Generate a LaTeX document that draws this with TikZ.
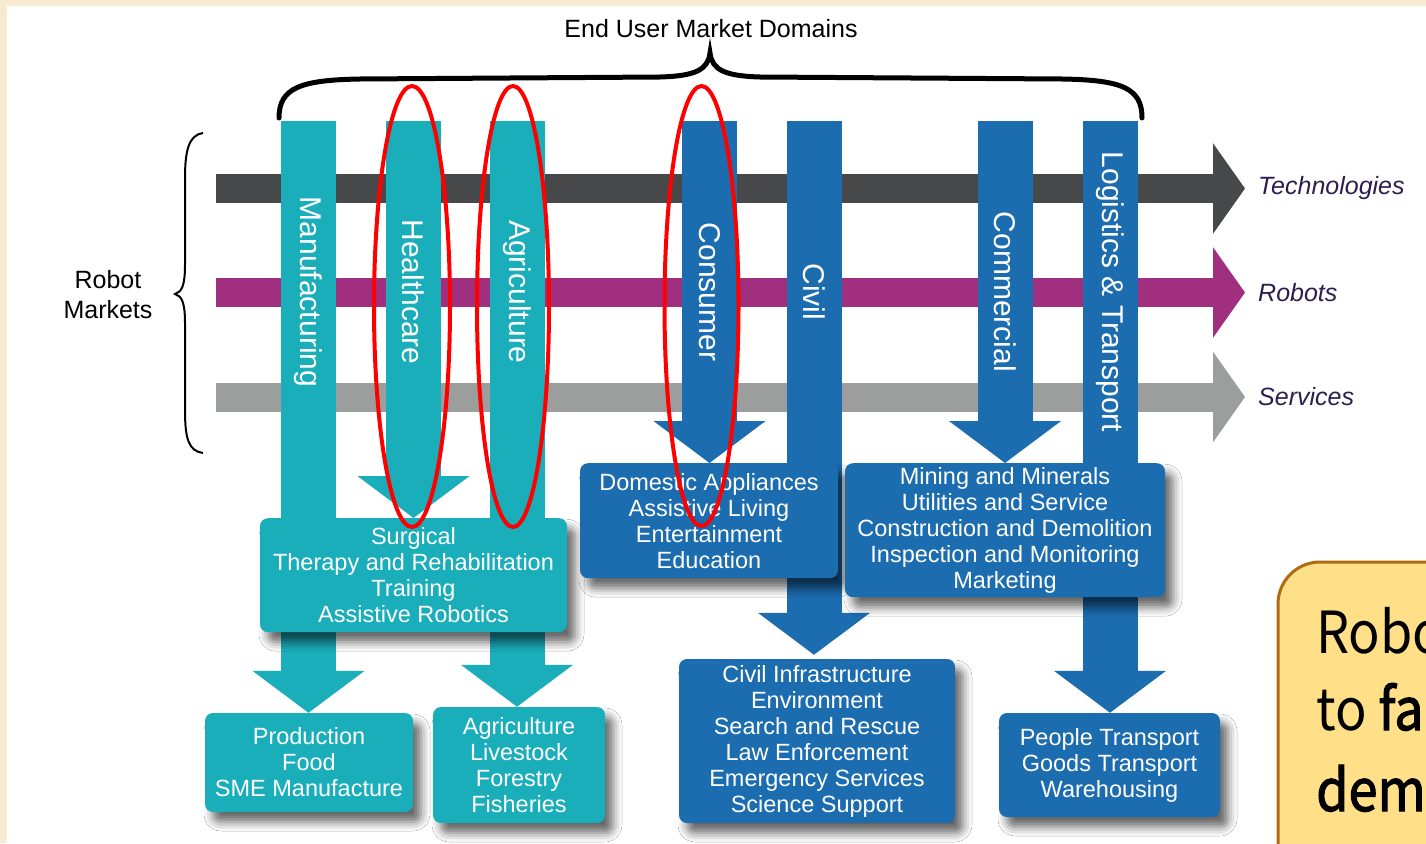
\documentclass[tikz,border=0pt]{standalone}
\usepackage{fontspec}
\setmainfont{Liberation Sans}
\newfontfamily\notefont{Noto Sans CJK SC}
\newfontfamily\notestrong[FakeBold=2]{Noto Sans CJK SC}
\usetikzlibrary{arrows.meta,shadows.blur}

\definecolor{cream}{HTML}{F7EAD0}
\definecolor{healthteal}{HTML}{1AADBA}
\definecolor{civilblue}{HTML}{1C6CB0}
\definecolor{techgray}{HTML}{47484A}
\definecolor{robotpink}{HTML}{A0307F}
\definecolor{servgray}{HTML}{9B9E9D}
\definecolor{marketnavy}{HTML}{2A1F4E}
\definecolor{noteyellow}{HTML}{FFDF87}
\definecolor{notebrown}{HTML}{B06A10}

\newcommand\notetxt[1]{\scalebox{0.9}[1]{#1}}

\tikzset{
  marketbar/.style={line width=29pt, -{Triangle[width=89pt,length=32pt]}},
  domaincol/.style={line width=55pt, -{Triangle[width=110pt,length=42pt]}},
  domainlabel/.style={rotate=-90, inner sep=0pt, text=white, font=\fontsize{30}{30}\selectfont},
  marketlabel/.style={anchor=west, inner sep=0pt, text=marketnavy, font=\fontsize{25}{30}\selectfont\itshape},
  fieldbox/.style={rounded corners=8pt, inner sep=0pt, align=center, text=white,
    font=\fontsize{23.5}{26}\selectfont,
    blur shadow={shadow xshift=8pt, shadow yshift=-10pt, shadow blur radius=9pt, shadow opacity=60}},
  healthfield/.style={fieldbox, fill=healthteal},
  civilfield/.style={fieldbox, fill=civilblue},
  ring/.style={draw=red, line width=4pt},
  notetext/.style={anchor=base west, inner sep=0pt, font=\notefont\fontsize{58}{79}\selectfont}
}

\begin{document}
\begin{tikzpicture}[x=1pt,y=-1pt]
  \clip (0,0) rectangle (1426,843);
  \fill[cream] (0,0) rectangle (1426,843);
  \fill[white] (7,6) rectangle (1426,843);

  % market rows
  \node[marketlabel] (tech) at (1258,188.5) {Technologies};
  \node[marketlabel] (robots) at (1258,292.5) {Robots};
  \node[marketlabel] (services) at (1258,397) {Services};
  \coordinate (tech start) at (216,188.5);
  \coordinate (robots start) at (216,292.5);
  \coordinate (services start) at (216,397);
  \draw[marketbar, techgray] (tech start) -- ([xshift=-13pt]tech.west);
  \draw[marketbar, robotpink] (robots start) -- ([xshift=-13pt]robots.west);
  \draw[marketbar, servgray] (services start) -- ([xshift=-13pt]services.west);

  % lower fields
  \node[healthfield, minimum width=208pt, minimum height=99pt] (production) at (309,762.5)
    {Production\\Food\\SME Manufacture};
  \node[healthfield, minimum width=172pt, minimum height=116pt] (farming) at (519,765)
    {Agriculture\\Livestock\\Forestry\\Fisheries};
  \node[civilfield, minimum width=276pt, minimum height=164pt] (infra) at (817,741)
    {Civil Infrastructure\\Environment\\Search and Rescue\\Law Enforcement\\Emergency Services\\Science Support};
  \node[civilfield, minimum width=221pt, minimum height=104pt] (transport) at (1109.5,765)
    {People Transport\\Goods Transport\\Warehousing};

  % domain columns
  \coordinate (manu top) at (308.5,121);
  \coordinate (health top) at (413.5,121);
  \coordinate (agri top) at (517,121);
  \coordinate (cons top) at (709.5,121);
  \coordinate (civil top) at (814,121);
  \coordinate (comm top) at (1005,121);
  \coordinate (logi top) at (1110,121);
  \coordinate (surgical top) at (413.5,518);
  \coordinate (domestic top) at (709,463);
  \coordinate (mining top) at (1005,463);
  \draw[domaincol, healthteal] (manu top) -- (manu top |- production.north);
  \draw[domaincol, healthteal] (health top) -- (health top |- surgical top);
  \draw[domaincol, healthteal] (agri top) -- (agri top |- farming.north);
  \draw[domaincol, civilblue] (cons top) -- (cons top |- domestic top);
  \draw[domaincol, civilblue] (civil top) -- ([yshift=4pt]civil top |- infra.north);
  \draw[domaincol, civilblue] (comm top) -- (comm top |- mining top);
  \draw[domaincol, civilblue] (logi top) -- (logi top |- transport.north);

  % upper fields, over the columns
  \node[healthfield, minimum width=307pt, minimum height=114pt, anchor=north] (surgical) at (surgical top)
    {Surgical\\Therapy and Rehabilitation\\Training\\Assistive Robotics};
  \node[civilfield, minimum width=258pt, minimum height=115pt, anchor=north] (domestic) at (domestic top)
    {Domestic Appliances\\Assistive Living\\Entertainment\\Education};
  \node[civilfield, minimum width=320pt, minimum height=134pt, anchor=north] (mining) at (mining top)
    {Mining and Minerals\\Utilities and Service\\Construction and Demolition\\Inspection and Monitoring\\Marketing};

  \node[domainlabel] (manu) at (308.5,292) {Manufacturing};
  \node[domainlabel] (health) at (413.5,292) {Healthcare};
  \node[domainlabel] (agri) at (517,292) {Agriculture};
  \node[domainlabel] (cons) at (709.5,292) {Consumer};
  \node[domainlabel] (civil) at (814,292) {Civil};
  \node[domainlabel] (comm) at (1005,292) {Commercial};
  \node[domainlabel] (logi) at (1110,292) {Logistics \& Transport};

  % braces
  \node[font=\fontsize{25}{30}\selectfont] (domains) at (711,29) {End User Market Domains};
  \draw[line width=5pt, line cap=round]
    (279,118) .. controls (279,88) and (300,80) .. (360,79) -- (660,77)
    .. controls (695,76) and (708,70) .. (710,53)
    .. controls (712,70) and (725,76) .. (760,77) -- (1062,79)
    .. controls (1122,80) and (1142,88) .. (1142,118);
  \node[align=center, font=\fontsize{25}{30}\selectfont] (markets) at (108,295) {Robot\\Markets};
  \draw[line width=2pt]
    (203,133) .. controls (189,135) and (185,150) .. (185,178) -- (185,265)
    .. controls (185,285) and (182,292) .. (175,294)
    .. controls (182,296) and (185,303) .. (185,323) -- (185,410)
    .. controls (185,440) and (189,451) .. (203,453);

  % highlighted domains
  \draw[ring] (412,306.5) ellipse [x radius=38, y radius=220.5];
  \draw[ring] (513,306.5) ellipse [x radius=36, y radius=220.5];
  \draw[ring] (701.5,306) ellipse [x radius=37, y radius=220];

  % note
  \draw[fill=noteyellow, draw=notebrown, line width=3pt, rounded corners=42pt]
    (1278,562) rectangle (1560,920);
  \node[notetext] (note1) at (1316,653) {\notetxt{Robo}};
  \node[notetext] (note2) at (1316,730) {\notetxt{to {\notestrong fa}}};
  \node[notetext] (note3) at (1316,811) {\notetxt{\notestrong dem}};
\end{tikzpicture}
\end{document}
